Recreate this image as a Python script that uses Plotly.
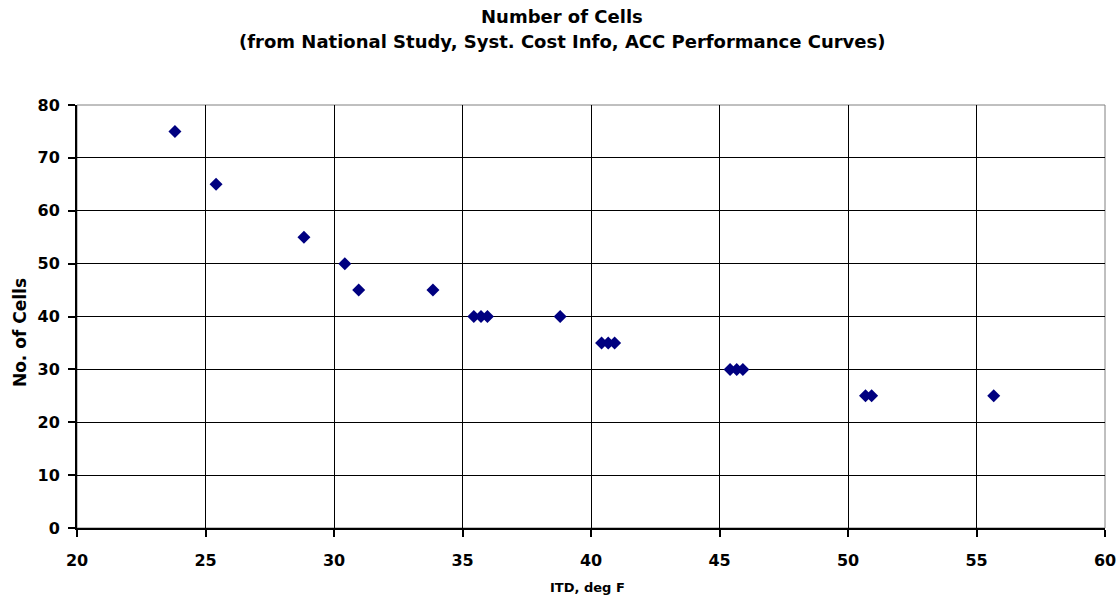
import plotly.graph_objects as go

itd = [23.81, 25.41, 28.83, 30.42, 30.96, 33.85, 35.44, 35.72, 35.97, 38.80,
       40.41, 40.67, 40.92, 45.41, 45.67, 45.91, 50.68, 50.92, 55.67]
cells = [75, 65, 55, 50, 45, 45, 40, 40, 40, 40,
         35, 35, 35, 30, 30, 30, 25, 25, 25]
x_ticks = [20, 25, 30, 35, 40, 45, 50, 55, 60]
y_ticks = [0, 10, 20, 30, 40, 50, 60, 70, 80]

FONT = "DejaVu Sans, Liberation Sans, Arial, sans-serif"

fig = go.Figure()
fig.add_trace(go.Scatter(
    x=itd, y=cells, mode="markers",
    marker=dict(symbol="diamond", size=10, color="#000080", line=dict(width=0)),
    showlegend=False,
))

fig.add_shape(type="rect", xref="paper", yref="paper", x0=0, x1=1, y0=0, y1=1,
              line=dict(color="#808080", width=1), layer="below")

annots = [
    dict(text="<b>Number of Cells</b>", x=0.4718, y=1.2104, size=18),
    dict(text="<b>(from National Study, Syst. Cost Info, ACC Performance Curves)</b>",
         x=0.4718, y=1.149, size=18),
    dict(text="<b>ITD, deg F</b>", x=0.497, y=-0.1418, size=13),
]
for a in annots:
    fig.add_annotation(text=a["text"], x=a["x"], y=a["y"], xref="paper", yref="paper",
                       xanchor="center", yanchor="middle", showarrow=False,
                       font=dict(size=a["size"], color="black", family=FONT))
fig.add_annotation(text="<b>No. of Cells</b>", x=-0.0554, y=0.461, xref="paper", yref="paper",
                   xanchor="center", yanchor="middle", showarrow=False, textangle=-90,
                   font=dict(size=17, color="black", family=FONT))

fig.update_layout(
    width=1117, height=598,
    margin=dict(l=77, r=12, t=105, b=70, autoexpand=False),
    paper_bgcolor="white", plot_bgcolor="white",
    font=dict(family=FONT, color="black"),
    xaxis=dict(
        range=[20, 60], tickvals=x_ticks, ticktext=[f"<b>{v}</b>" for v in x_ticks],
        showgrid=True, gridcolor="black", gridwidth=1,
        showline=True, linecolor="black", linewidth=2,
        ticks="outside", ticklen=7, tickwidth=2, tickcolor="black",
        ticklabelstandoff=10, ticklabeloverflow="allow", automargin=False,
        tickfont=dict(size=16, color="black", family=FONT),
        zeroline=False,
    ),
    yaxis=dict(
        range=[0, 80], tickvals=y_ticks, ticktext=[f"<b>{v}</b>" for v in y_ticks],
        showgrid=True, gridcolor="black", gridwidth=1,
        showline=True, linecolor="black", linewidth=2,
        ticks="outside", ticklen=7, tickwidth=2, tickcolor="black",
        ticklabelstandoff=5, ticklabeloverflow="allow", automargin=False,
        tickfont=dict(size=16, color="black", family=FONT),
        zeroline=False,
    ),
)

fig.write_html("out.html")
